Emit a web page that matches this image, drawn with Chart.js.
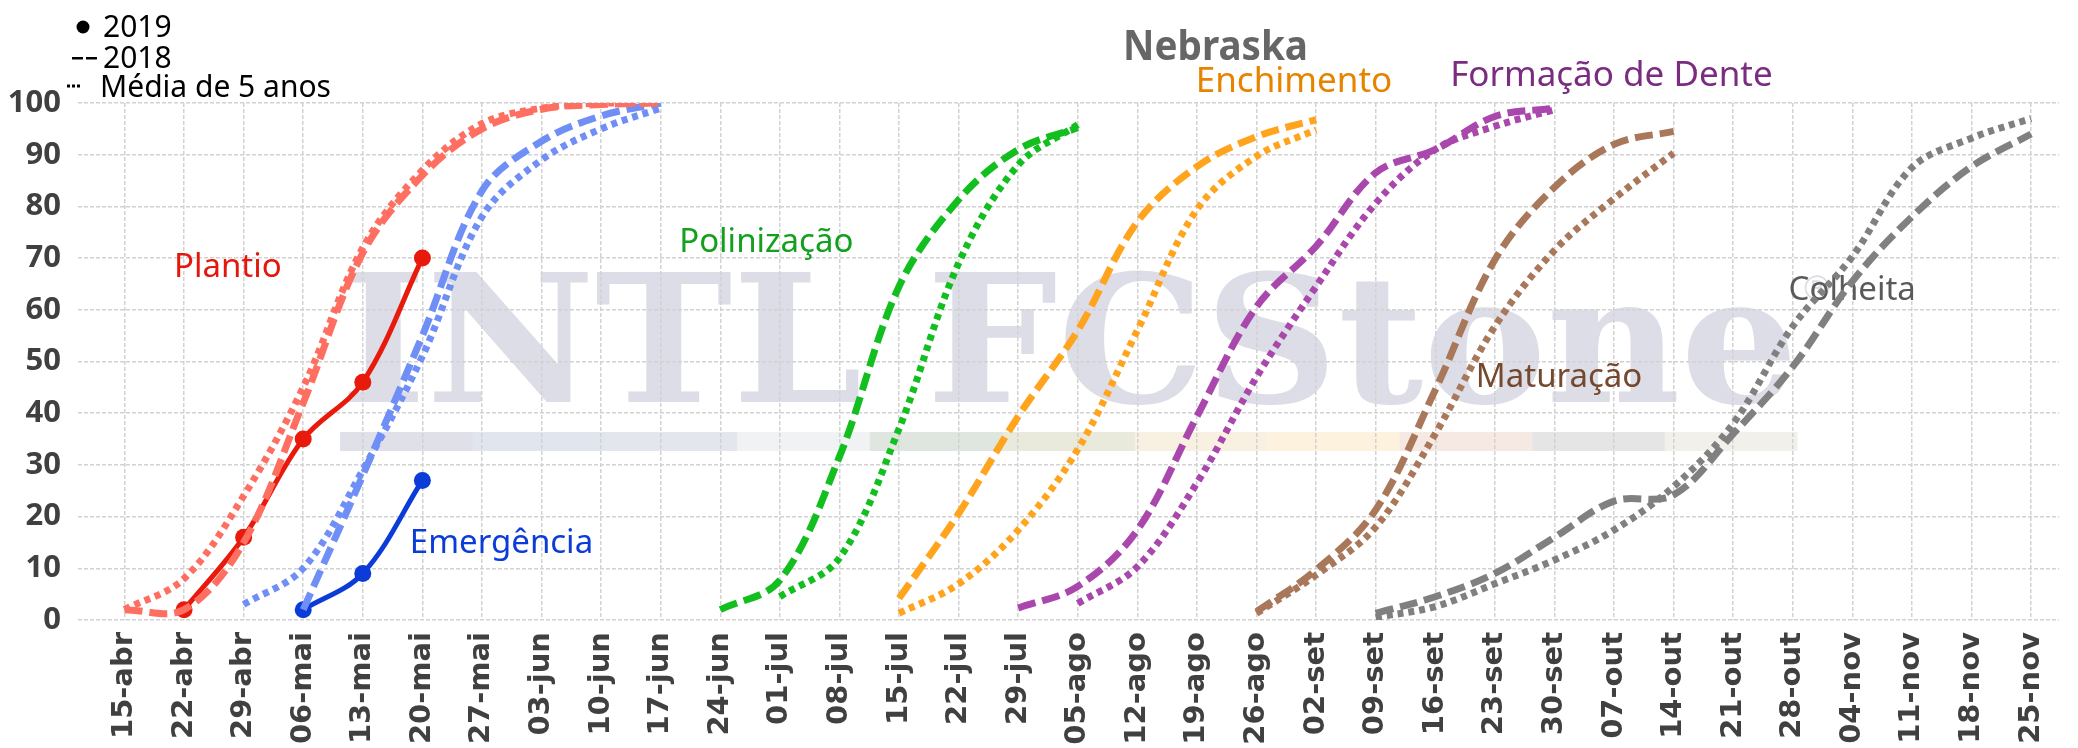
<!DOCTYPE html>
<html>
<head>
<meta charset="utf-8">
<script src="https://cdn.jsdelivr.net/npm/chart.js@4.4.1/dist/chart.umd.min.js"></script>
<style>
  html, body { margin: 0; padding: 0; background: #fff; }
  #wrap { width: 2078px; height: 748px; position: relative; }
</style>
</head>
<body>
<div id="wrap"><canvas id="chart"></canvas></div>
<script>
// semanas (eixo x)
const weeks = ['15-abr','22-abr','29-abr','06-mai','13-mai','20-mai','27-mai','03-jun','10-jun','17-jun',
  '24-jun','01-jul','08-jul','15-jul','22-jul','29-jul','05-ago','12-ago','19-ago','26-ago','02-set',
  '09-set','16-set','23-set','30-set','07-out','14-out','21-out','28-out','04-nov','11-nov','18-nov','25-nov'];
const yTicks = [0, 10, 20, 30, 40, 50, 60, 70, 80, 90, 100];

// Plantio
const plantio2019 = [2, 16, 35, 46, 70];                       // desde 22-abr
const plantio2018 = [2, 2, 15, 42, 71, 86, 95, 98.8, 99.7, 100]; // desde 15-abr
const plantioMedia = [2, 8, 24, 45, 72, 87, 96, 99, 100, 100];  // desde 15-abr

// Emergência
const emerg2019 = [2, 9, 27];                                   // desde 06-mai
const emerg2018 = [2, 28, 55, 83, 92.6, 97.5, 100];             // desde 06-mai
const emergMedia = [3, 10, 29, 51, 78, 89, 95, 99];             // desde 29-abr

// Polinização
const polin2018 = [2, 7.7, 31.6, 64.5, 81.3, 91, 95.2];         // desde 24-jun
const polinMedia = [4.5, 12, 37, 69, 88, 95.8];                 // desde 01-jul

// Enchimento
const ench2018 = [4.2, 20.6, 39.4, 56, 77, 87.7, 93.5, 96.8];   // desde 15-jul
const enchMedia = [1.3, 7, 17.4, 33, 56, 79.4, 89.7, 94.8];     // desde 15-jul

// Formação de Dente
const dente2018 = [2.3, 6.5, 17.4, 39.4, 60.6, 72.3, 86.5, 91, 97.4, 99]; // desde 29-jul
const denteMedia = [3.2, 10.3, 26.5, 47, 64.5, 80.6, 91, 95.5, 98.7];     // desde 05-ago

// Maturação
const matur2018 = [1.6, 9.7, 21.3, 44.5, 69.7, 83.7, 92, 94.5]; // desde 26-ago
const maturMedia = [1.3, 8.7, 18, 36, 56.8, 71.5, 81.5, 90.3];  // desde 26-ago

// Colheita
const colh2018 = [1.3, 4.5, 9, 16, 23, 24.2, 36, 49, 65.5, 78, 87.7, 94];     // desde 09-set
const colhMedia = [0.5, 2.6, 7, 11.6, 17.4, 25.8, 38, 56.8, 70.3, 87.5, 93.2, 97]; // desde 09-set

function pts(start, values) {
  const i0 = weeks.indexOf(start);
  return values.map((v, k) => ({ x: i0 + k, y: v }));
}

const stages = [
  { name: 'Plantio', dark: '#e81a0c', light: '#ff6f61', text: '#e4170b',
    s2018: pts('15-abr', plantio2018), media: pts('15-abr', plantioMedia), s2019: pts('22-abr', plantio2019) },
  { name: 'Emergência', dark: '#0b3cd8', light: '#6f8ff6', text: '#0b3cd8',
    s2018: pts('06-mai', emerg2018), media: pts('29-abr', emergMedia), s2019: pts('06-mai', emerg2019) },
  { name: 'Polinização', light: '#12bf1f', text: '#12a01e',
    s2018: pts('24-jun', polin2018), media: pts('01-jul', polinMedia) },
  { name: 'Enchimento', light: '#ffa41c', text: '#e68400',
    s2018: pts('15-jul', ench2018), media: pts('15-jul', enchMedia) },
  { name: 'Formação de Dente', light: '#aa47ad', text: '#7a2d80',
    s2018: pts('29-jul', dente2018), media: pts('05-ago', denteMedia) },
  { name: 'Maturação', light: '#a9785a', text: '#75492f',
    s2018: pts('26-ago', matur2018), media: pts('26-ago', maturMedia) },
  { name: 'Colheita', light: '#808080', text: '#5a5a5a',
    s2018: pts('09-set', colh2018), media: pts('09-set', colhMedia) }
];

const datasets = [];
stages.forEach(st => {
  datasets.push({ label: st.name + ' média', data: st.media, borderColor: st.light,
    borderWidth: 7, borderDash: [6, 5], pointRadius: 0, tension: 0.35 });
  datasets.push({ label: st.name + ' 2018', data: st.s2018, borderColor: st.light,
    borderWidth: 7, borderDash: [18, 7], pointRadius: 0, tension: 0.35 });
  if (st.s2019) {
    datasets.push({ label: st.name + ' 2019', data: st.s2019, borderColor: st.dark,
      backgroundColor: st.dark, borderWidth: 5, pointRadius: 8.5, pointBorderWidth: 0,
      pointBackgroundColor: st.dark, tension: 0.35 });
  }
});

// posição dos rótulos (semana, %, tamanho da fonte)
const stageLabelPos = {
  'Plantio': [0.83, 66.4, 33], 'Emergência': [4.79, 13, 33], 'Polinização': [9.31, 71.2, 33],
  'Enchimento': [17.98, 102.2, 35], 'Formação de Dente': [22.25, 103.2, 35],
  'Maturação': [22.68, 45.1, 33], 'Colheita': [27.93, 61.9, 33]
};

const decor = {
  id: 'decor',
  beforeDraw(chart) {
    const ctx = chart.ctx;
    ctx.save();
    // marca d'água
    const wmColor = '#dcdde6';
    ctx.fillStyle = wmColor;
    ctx.font = 'bold 177px "DejaVu Serif"';
    ctx.textBaseline = 'alphabetic';
    const w = ctx.measureText('INTL FCStone').width;
    ctx.translate(340, 402);
    ctx.scale(1458 / w, 1);
    ctx.fillText('INTL FCStone', 0, 0);
    ctx.restore();
    ctx.save();
    ctx.fillStyle = wmColor;
    ctx.font = '34px "DejaVu Sans"';
    ctx.fillText('®', 1800, 300);
    const bar = ['#dfe0e8', '#e1e6ee', '#e3e6ec', '#f1f2f4', '#dfe6df', '#e9eadc',
      '#f8f1e1', '#fdf2dd', '#f6e8e2', '#e6e5e5', '#f1f0ea'];
    const segW = (1797 - 340) / bar.length;
    bar.forEach((c, k) => {
      ctx.fillStyle = c;
      ctx.fillRect(340 + k * segW, 432, segW + 0.5, 19);
    });
    ctx.restore();
  },
  beforeDatasetsDraw(chart) {
    const ctx = chart.ctx, x = chart.scales.x, y = chart.scales.y;
    ctx.save();
    ctx.textBaseline = 'alphabetic';
    ctx.textAlign = 'left';
    stages.forEach(st => {
      const p = stageLabelPos[st.name];
      ctx.font = p[2] + 'px "Noto Sans"';
      ctx.fillStyle = st.text;
      ctx.fillText(st.name, x.getPixelForValue(p[0]), y.getPixelForValue(p[1]));
    });
    ctx.restore();
  },
  afterDraw(chart) {
    const ctx = chart.ctx;
    ctx.save();
    // título
    ctx.fillStyle = '#666666';
    ctx.font = 'bold 42px "Noto Sans"';
    ctx.textAlign = 'left';
    ctx.textBaseline = 'alphabetic';
    const tw = ctx.measureText('Nebraska').width;
    ctx.save();
    ctx.translate(1123, 60);
    ctx.scale(185 / tw, 1);
    ctx.fillText('Nebraska', 0, 0);
    ctx.restore();
    // legenda
    ctx.fillStyle = '#000';
    ctx.font = '30px "Noto Sans"';
    ctx.beginPath();
    ctx.arc(83, 27, 6.5, 0, Math.PI * 2);
    ctx.fill();
    ctx.fillText('2019', 103, 37);
    ctx.fillRect(72, 57, 11, 2.5);
    ctx.fillRect(86, 57, 11, 2.5);
    ctx.fillText('2018', 103, 68);
    [67, 72, 77].forEach(dx => ctx.fillRect(dx, 84.5, 3, 3));
    ctx.fillText('Média de 5 anos', 100, 97);
    ctx.restore();
  }
};

new Chart(document.getElementById('chart'), {
  type: 'line',
  data: { datasets },
  options: {
    responsive: true,
    maintainAspectRatio: false,
    animation: false,
    layout: { padding: { left: 8, top: 103, right: 0, bottom: 0 } },
    plugins: { legend: { display: false }, tooltip: { enabled: false } },
    scales: {
      x: {
        type: 'linear',
        min: -0.78,
        max: 32.47,
        afterBuildTicks: s => { s.ticks = weeks.map((w, i) => ({ value: i })); },
        afterFit: s => { s.height = 128; },
        grid: { color: '#d2d2d2', lineWidth: 1.5, drawTicks: false },
        border: { display: false, dash: [4, 2] },
        ticks: {
          autoSkip: false, minRotation: 90, maxRotation: 90, padding: 12,
          color: '#404040', font: { family: 'DejaVu Sans', size: 29, weight: 'bold' },
          callback: v => weeks[v]
        }
      },
      y: {
        min: 0,
        max: 100,
        afterBuildTicks: s => { s.ticks = yTicks.map(v => ({ value: v })); },
        afterFit: s => { s.width = 70; },
        grid: { color: '#d2d2d2', lineWidth: 1.5, drawTicks: false },
        border: { display: false, dash: [4, 2] },
        ticks: {
          padding: 17, color: '#404040',
          font: { family: 'Noto Sans', size: 31, weight: 'bold' }
        }
      }
    }
  },
  plugins: [decor]
});
</script>
</body>
</html>
